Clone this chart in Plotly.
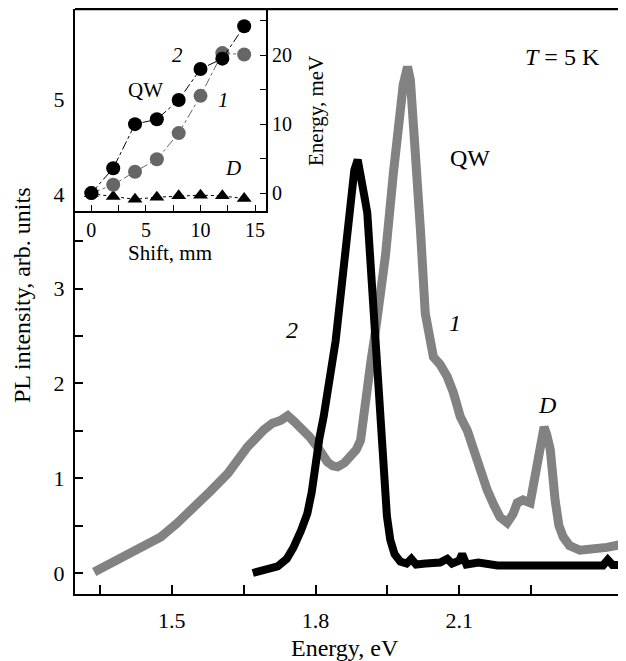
import plotly.graph_objects as go

# Main spectra
energy_1 = [1.338, 1.37, 1.408, 1.44, 1.477, 1.51, 1.546, 1.58, 1.617, 1.64, 1.658, 1.692, 1.71, 1.727,
            1.742, 1.755, 1.769, 1.787, 1.804, 1.815, 1.825, 1.836, 1.846, 1.86, 1.873, 1.885, 1.894,
            1.905, 1.915, 1.925, 1.935, 1.946, 1.9625, 1.973, 1.983, 1.992, 1.998, 2.004, 2.0125, 2.019,
            2.029, 2.037, 2.046, 2.06, 2.075, 2.088, 2.102, 2.117, 2.129, 2.145, 2.158, 2.172, 2.185,
            2.2, 2.212, 2.221, 2.233, 2.248, 2.262, 2.272, 2.277, 2.283, 2.29, 2.3, 2.308, 2.317, 2.33,
            2.352, 2.38, 2.408, 2.448]
intensity_1 = [0.01, 0.09, 0.19, 0.28, 0.38, 0.52, 0.68, 0.86, 1.05, 1.2, 1.33, 1.51, 1.58, 1.61,
               1.66, 1.6, 1.54, 1.44, 1.33, 1.24, 1.17, 1.13, 1.12, 1.16, 1.22, 1.3, 1.4,
               1.75, 2.21, 2.55, 2.91, 3.35, 4.22, 4.75, 5.15, 5.34, 5.2, 4.75, 4.22, 3.62,
               2.74, 2.45, 2.28, 2.2, 2.07, 1.9, 1.65, 1.5, 1.3, 1.08, 0.88, 0.72, 0.59,
               0.53, 0.62, 0.74, 0.77, 0.74, 1.12, 1.45, 1.54, 1.45, 1.3, 0.77, 0.5, 0.38, 0.29,
               0.24, 0.25, 0.27, 0.31]

energy_2 = [1.669, 1.69, 1.721, 1.74, 1.754, 1.77, 1.783, 1.792, 1.8, 1.808, 1.817, 1.831, 1.842,
            1.852, 1.862, 1.873, 1.881, 1.888, 1.895, 1.901, 1.908, 1.913, 1.919, 1.925, 1.931,
            1.935, 1.942, 1.949, 1.956, 1.965, 1.977, 1.99, 2.0, 2.01, 2.03, 2.06, 2.075, 2.085,
            2.1, 2.106, 2.115, 2.14, 2.18, 2.25, 2.3, 2.35, 2.4, 2.41, 2.42, 2.448]
intensity_2 = [0.0, 0.02, 0.07, 0.15, 0.27, 0.45, 0.63, 0.85, 1.16, 1.42, 1.65, 2.04, 2.45,
               2.91, 3.45, 3.97, 4.25, 4.36, 4.2, 4.0, 3.8, 3.4, 2.91, 2.4, 1.86,
               1.51, 0.95, 0.6, 0.35, 0.2, 0.12, 0.1, 0.15, 0.09, 0.1, 0.11, 0.15, 0.1,
               0.13, 0.2, 0.09, 0.11, 0.08, 0.08, 0.08, 0.085, 0.08, 0.14, 0.085, 0.085]

# Inset data
shift_mm = [0, 2, 4, 6, 8, 10, 12, 14]
qw_shift_2 = [0.0, 3.6, 10.0, 10.7, 13.5, 18.0, 19.5, 24.2]
qw_shift_1 = [0.0, 1.2, 3.1, 4.9, 8.7, 14.1, 20.3, 20.1]
d_shift = [-0.1, -0.5, -0.9, -0.6, -0.4, -0.3, -0.4, -0.8]

main_x_ticks = [1.5, 1.8, 2.1]
main_y_ticks = [0, 1, 2, 3, 4, 5]
inset_x_ticks = [0, 5, 10, 15]
inset_y_ticks = [0, 10, 20]

# page has an 8px body margin, so the figure is 8px smaller and coordinates are shifted
OFF = 8
W, H = 626 - OFF, 661 - OFF
L, R, T, B = 75 - OFF, 0, 1, 661 - 594
pw, ph = W - L - R, H - T - B

def px(x):
    return (x - OFF - L) / pw

def py(y):
    return (H - B - (y - OFF)) / ph

FONT = "Liberation Serif"
GRAY = "#828282"
MAIN_TICK, MAIN_TXT = 22, 24
INS_TICK, INS_TXT = 20, 21

fig = go.Figure()
fig.add_trace(go.Scatter(x=energy_1, y=intensity_1, mode="lines",
                         line=dict(color=GRAY, width=9), showlegend=False))
fig.add_trace(go.Scatter(x=energy_2, y=intensity_2, mode="lines",
                         line=dict(color="black", width=8), showlegend=False))

# inset
fig.add_trace(go.Scatter(x=shift_mm, y=d_shift, mode="lines+markers", xaxis="x2", yaxis="y2",
                         line=dict(color="black", width=1, dash="dot"),
                         marker=dict(symbol="triangle-up", size=13, color="black"), showlegend=False))
fig.add_trace(go.Scatter(x=shift_mm, y=qw_shift_1, mode="lines+markers", xaxis="x2", yaxis="y2",
                         line=dict(color="#666666", width=1, dash="dashdot"),
                         marker=dict(symbol="circle", size=14, color="#666666"), showlegend=False))
fig.add_trace(go.Scatter(x=shift_mm, y=qw_shift_2, mode="lines+markers", xaxis="x2", yaxis="y2",
                         line=dict(color="black", width=1, dash="dashdot"),
                         marker=dict(symbol="circle", size=14, color="black"), showlegend=False))

inset_x0, inset_x1 = px(75), px(266)
inset_y0, inset_y1 = py(211), 1.0

fig.update_layout(
    width=W, height=H,
    margin=dict(l=L, r=R, t=T, b=B, autoexpand=False),
    paper_bgcolor="white", plot_bgcolor="white",
    font=dict(family=FONT, color="black", size=20),
    xaxis=dict(range=[1.298, 2.448], domain=[0, 1], showgrid=False, zeroline=False, automargin=False,
               showline=True, linecolor="black", linewidth=2,
               tickmode="array", tickvals=main_x_ticks, ticktext=[f"{v:.1f}" for v in main_x_ticks],
               ticks="inside", ticklen=9, tickwidth=1.5, tickcolor="black",
               tickfont=dict(size=MAIN_TICK, family=FONT), ticklabelstandoff=6,
               minor=dict(tickvals=[1.35, 1.65, 1.95, 2.25], ticks="inside", ticklen=9,
                          tickwidth=1.5, tickcolor="black")),
    yaxis=dict(range=[-0.2215, 5.95], domain=[0, 1], showgrid=False, zeroline=False, automargin=False,
               showline=True, linecolor="black", linewidth=2,
               tickmode="array", tickvals=main_y_ticks,
               ticks="inside", ticklen=8, tickwidth=1.5, tickcolor="black",
               tickfont=dict(size=MAIN_TICK, family=FONT), ticklabelstandoff=4,
               minor=dict(tickvals=[0.5, 1.5, 2.5, 3.5, 4.5, 5.5], ticks="inside", ticklen=8,
                          tickwidth=1.5, tickcolor="black")),
    xaxis2=dict(range=[-1.5, 16], domain=[inset_x0, inset_x1], anchor="y2", automargin=False,
                showgrid=False, zeroline=False, showline=True, linecolor="black", linewidth=2,
                tickmode="array", tickvals=inset_x_ticks,
                ticks="inside", ticklen=6, tickwidth=1.2, tickcolor="black",
                tickfont=dict(size=INS_TICK, family=FONT),
                minor=dict(tickvals=[2.5, 7.5, 12.5], ticks="inside", ticklen=6,
                           tickwidth=1.2, tickcolor="black")),
    yaxis2=dict(range=[-2.6, 26.7], domain=[inset_y0, inset_y1], anchor="x2", side="right",
                automargin=False,
                showgrid=False, zeroline=False, showline=True, linecolor="black", linewidth=2,
                tickmode="array", tickvals=inset_y_ticks,
                ticks="inside", ticklen=6, tickwidth=1.2, tickcolor="black",
                tickfont=dict(size=INS_TICK, family=FONT),
                minor=dict(tickvals=[5, 15, 25], ticks="inside", ticklen=6,
                           tickwidth=1.2, tickcolor="black")),
)

# top frame line of main plot
fig.add_shape(type="line", xref="paper", yref="paper", x0=0, x1=1, y0=1, y1=1,
              line=dict(color="black", width=2.5))

def ann(text, x, y, size=MAIN_TXT, angle=0):
    fig.add_annotation(text=text, x=px(x), y=py(y), xref="paper", yref="paper",
                       showarrow=False, xanchor="center", yanchor="middle",
                       textangle=angle, font=dict(size=size, family=FONT, color="black"))

ann("<i>T</i> = 5 K", 562, 57)
ann("QW", 470, 158)
ann("<i>2</i>", 292, 330)
ann("<i>1</i>", 455, 323)
ann("<i>D</i>", 547, 405)
ann("PL intensity, arb. units", 22, 295, angle=-90)
ann("Energy, eV", 345, 648)

ann("<i>2</i>", 177, 55, size=INS_TXT)
ann("QW", 145, 90, size=INS_TXT)
ann("<i>1</i>", 223, 100, size=INS_TXT)
ann("<i>D</i>", 233, 168, size=INS_TXT)
ann("Shift, mm", 170, 253, size=INS_TXT)
ann("Energy, meV", 316, 111, size=INS_TXT, angle=-90)

fig.write_html("out.html")
